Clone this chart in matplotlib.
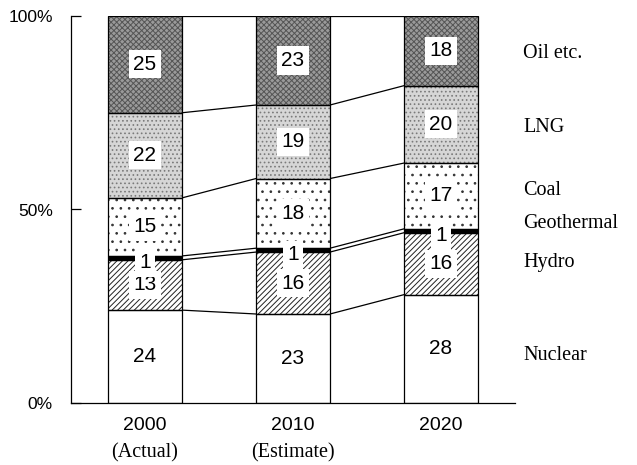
import matplotlib
matplotlib.use("Agg")
import matplotlib.pyplot as plt
import numpy as np

# ---- data ----
years = ["2000", "2010", "2020"]
subtitles = ["(Actual)", "(Estimate)", ""]
sources = ["Nuclear", "Hydro", "Geothermal", "Coal", "LNG", "Oil etc."]
nuclear = [24, 23, 28]
hydro = [13, 16, 16]
geothermal = [1, 1, 1]
coal = [15, 18, 17]
lng = [22, 19, 20]
oil = [25, 23, 18]
yticks = [0, 50, 100]
ytick_labels = ["0%", "50%", "100%"]

series = [nuclear, hydro, geothermal, coal, lng, oil]

# ---- styles ----
face = ["white", "white", "black", "white", "#d6d6d6", "#9a9a9a"]
hatch = [None, "//////", None, "..", "....", "xxxxxx"]
hcol = ["black", "#222222", "black", "#333333", "#7a7a7a", "#555555"]
# right-side label y offsets (relative to 2020 segment centres)
label_dy = [-1.6, 0.4, 1.8, 1.3, -0.9, -0.6]

plt.rcParams["hatch.linewidth"] = 0.7
fig = plt.figure(figsize=(6.37, 4.65), dpi=100)
ax = fig.add_axes([71/637, 1-403/465, 444/637, 387/465])

x = np.arange(len(years))
w = 0.5
bottoms = np.zeros(len(years))
tops_all = []
for k, vals in enumerate(series):
    vals = np.array(vals, dtype=float)
    # fill + hatch layer
    ax.bar(x, vals, w, bottom=bottoms, color=face[k], hatch=hatch[k],
           edgecolor=hcol[k], linewidth=0, zorder=2)
    # outline layer
    ax.bar(x, vals, w, bottom=bottoms, color="none", edgecolor="black",
           linewidth=0.9, zorder=3)
    centres = bottoms + vals / 2
    for i in range(len(years)):
        dy = -1.2 if sources[k] == "Geothermal" else 0
        ax.text(x[i], centres[i] + dy, f"{int(vals[i])}", ha="center", va="center",
                fontsize=15, family="Liberation Sans", zorder=5,
                bbox=dict(boxstyle="square,pad=0.22", facecolor="white",
                          edgecolor="none"))
    ax.text(2.555, centres[-1] + label_dy[k], sources[k], ha="left", va="center",
            fontsize=14.5, family="Liberation Serif", clip_on=False)
    bottoms = bottoms + vals
    tops_all.append(bottoms.copy())

# connector lines between bars
for tops in tops_all:
    for i in range(len(years) - 1):
        ax.plot([x[i] + w/2, x[i+1] - w/2], [tops[i], tops[i+1]],
                color="black", linewidth=0.9, zorder=1)

ax.set_xlim(-0.5, 2.5)
ax.set_ylim(0, 100)
ax.set_yticks(yticks)
ax.set_yticklabels(ytick_labels, family="Liberation Sans", fontsize=12.5)
ax.set_xticks(x)
ax.set_xticklabels(years, family="Liberation Sans", fontsize=14)
ax.tick_params(axis="y", direction="in", length=7, width=0.9, pad=13)
ax.tick_params(axis="x", length=0, pad=10)
for i, s in enumerate(subtitles):
    if s:
        ax.text(x[i], -12.8, s, ha="center", va="center", fontsize=14.5,
                family="Liberation Serif", clip_on=False)
for sp in ["top", "right"]:
    ax.spines[sp].set_visible(False)
for sp in ["left", "bottom"]:
    ax.spines[sp].set_linewidth(0.9)

fig.savefig("out.png", dpi=100)
